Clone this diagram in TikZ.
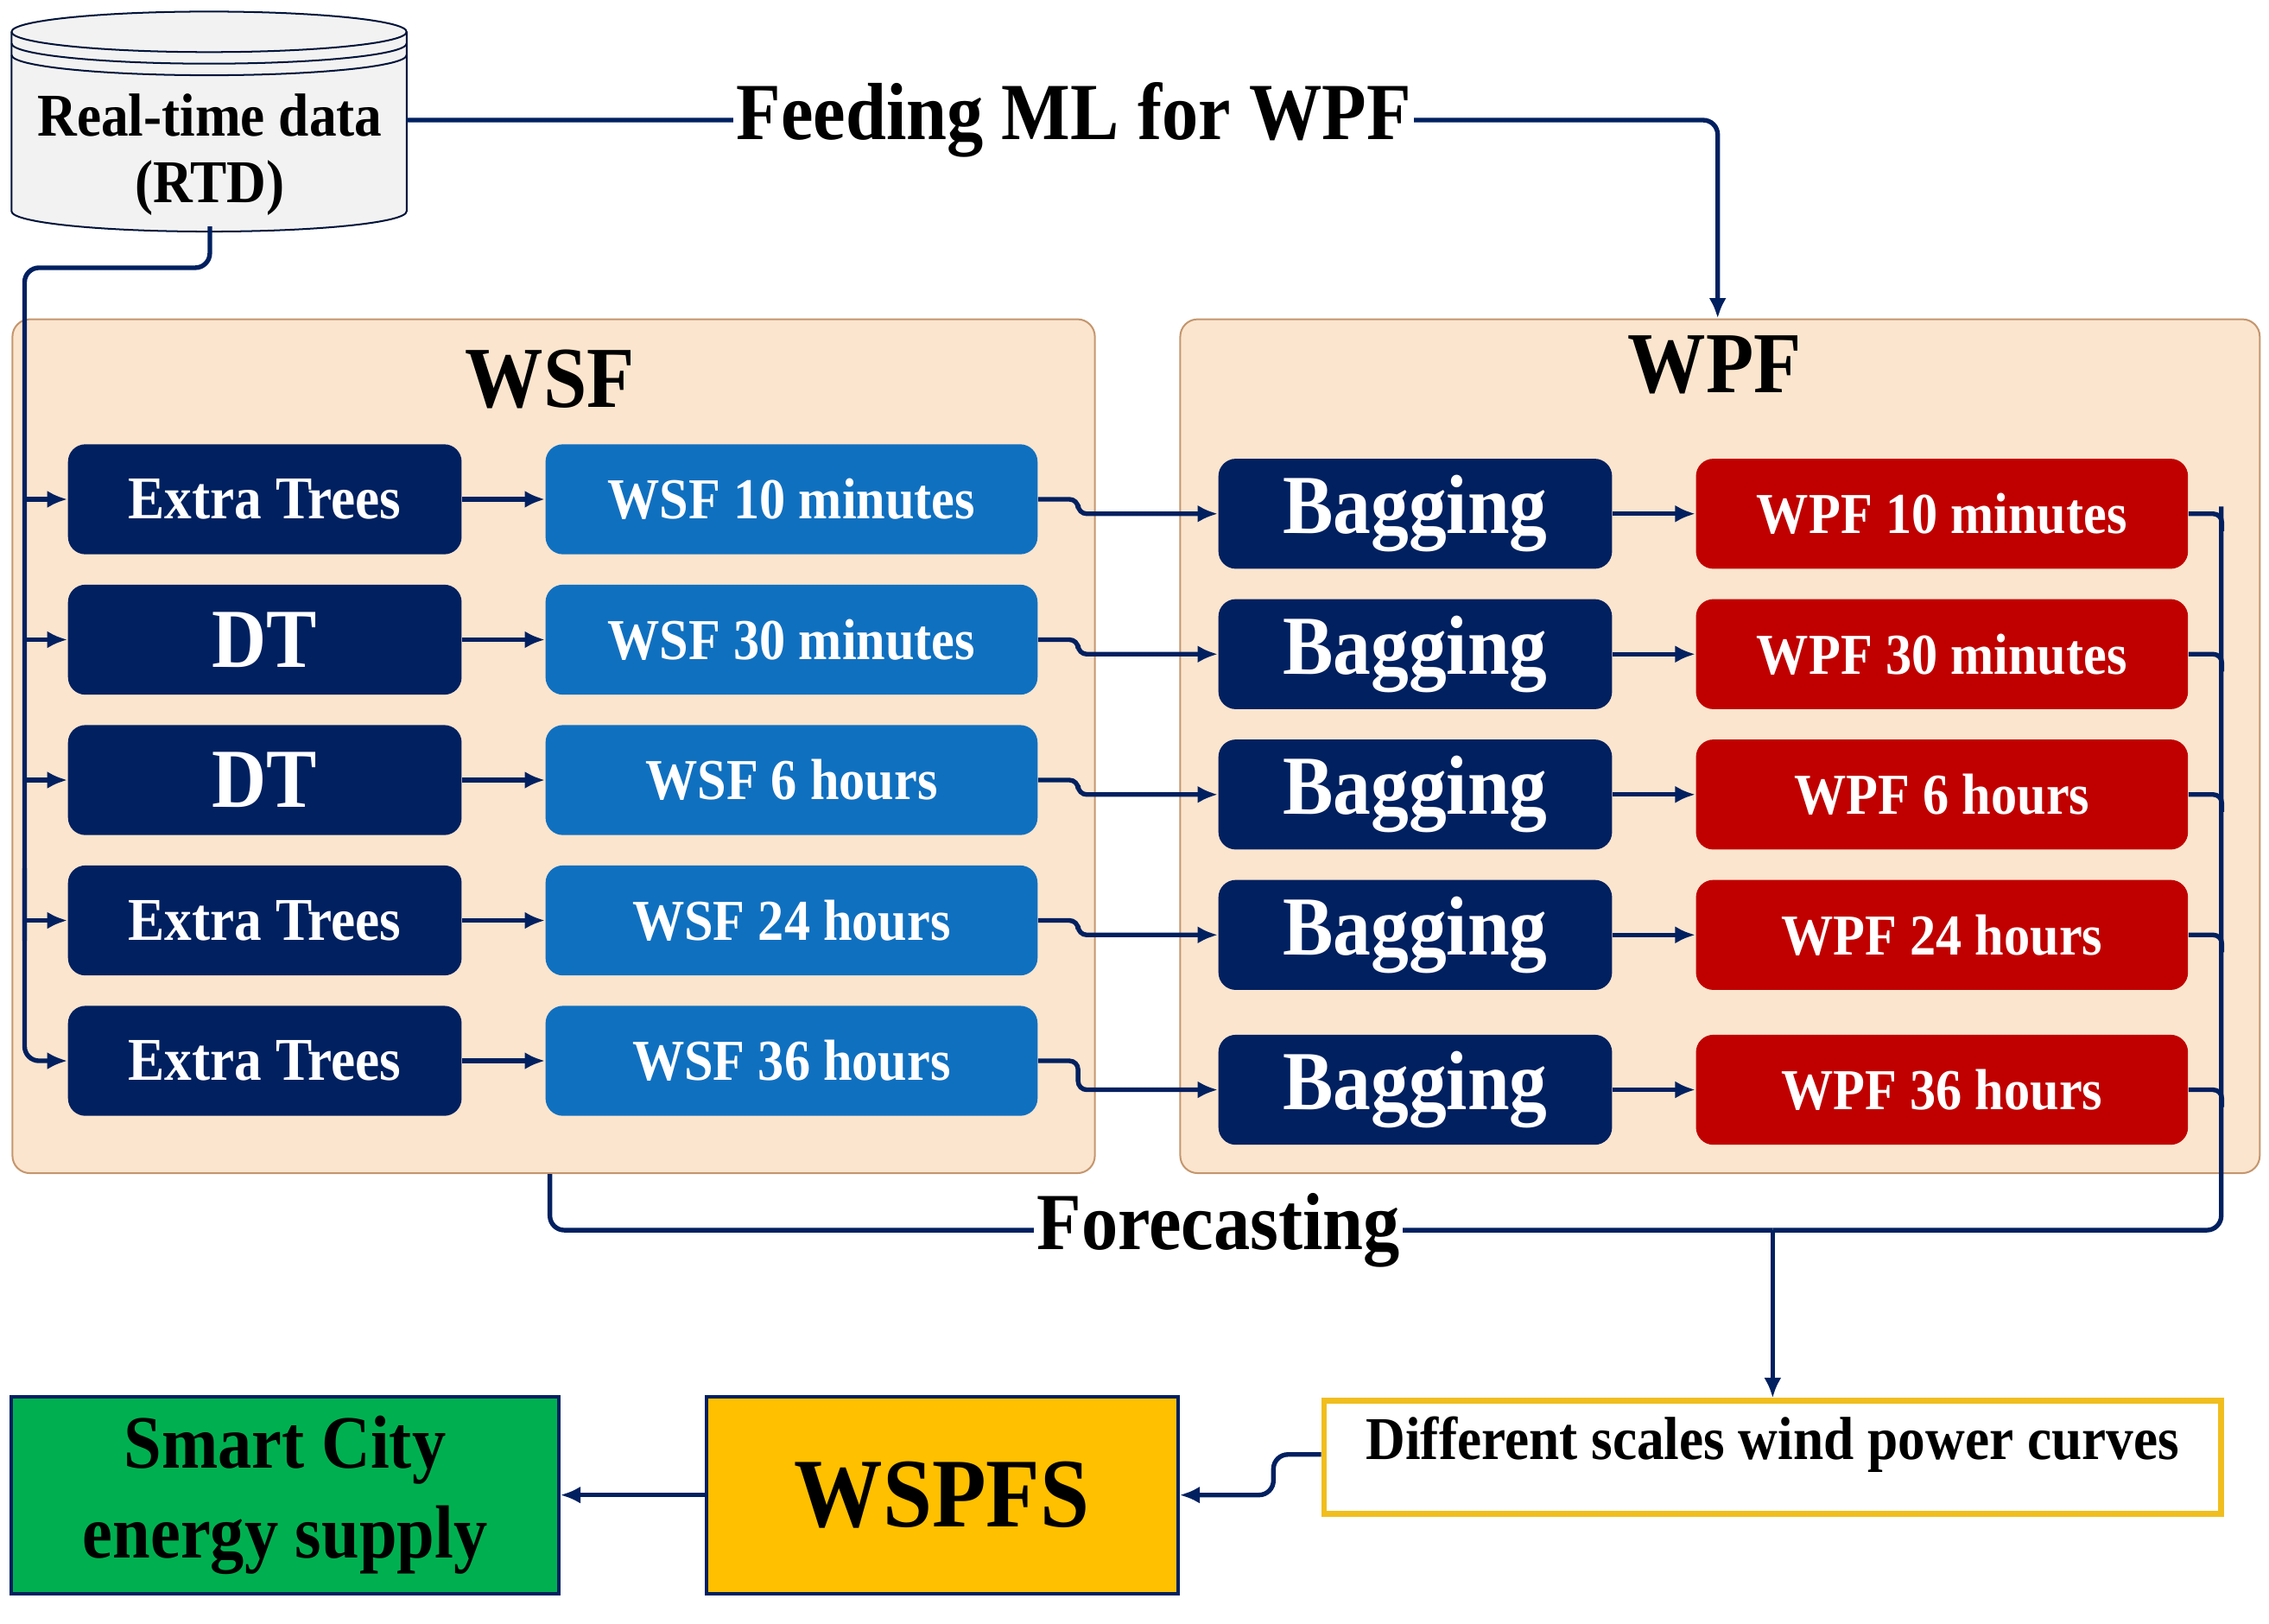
\documentclass[tikz,border=0pt]{standalone}
\usepackage{fontspec}
\setmainfont{Liberation Serif}[FakeStretch=0.9]
\usetikzlibrary{arrows.meta}
\definecolor{navy}{RGB}{0,32,96}
\definecolor{lblue}{RGB}{16,112,192}
\definecolor{dred}{RGB}{192,0,0}
\definecolor{peach}{RGB}{251,229,206}
\definecolor{panelb}{RGB}{196,150,110}
\definecolor{gold}{RGB}{255,192,0}
\definecolor{ygold}{RGB}{240,190,30}
\definecolor{green}{RGB}{0,176,80}
\definecolor{cyl}{RGB}{242,242,242}
\begin{document}
\begin{tikzpicture}[x=0.5pt,y=-0.5pt,
 box/.style={draw=none,rounded corners=6pt,minimum width=136pt,minimum height=38pt,inner sep=0pt,text=white,font=\bfseries\fontsize{21}{24}\selectfont},
 lbox/.style={box,fill=lblue,minimum width=170pt,font=\bfseries\fontsize{20}{22}\selectfont},
 nbox/.style={box,fill=navy},
 bbox/.style={box,fill=navy,font=\bfseries\fontsize{29}{32}\selectfont},
 rbox/.style={box,fill=dred,minimum width=170pt,font=\bfseries\fontsize{20}{22}\selectfont},
 panel/.style={draw=panelb,fill=peach,rounded corners=6pt,line width=0.6pt},
 conn/.style={draw=navy,line width=1.6pt,rounded corners=5pt},
 arr/.style={conn,-{Latex[length=7pt,width=6pt]}},
 cyln/.style={draw=navy!60!black,line width=0.6pt},
 lab/.style={fill=white,inner sep=1pt,font=\bfseries\fontsize{28}{30}\selectfont}]
\useasboundingbox (0,0) rectangle (1568,1122);
% cylinder
\draw[cyln,fill=cyl] (8,22) -- (8,146) arc[start angle=180,end angle=0,x radius=136.5,y radius=14] -- (281,22) arc[start angle=0,end angle=-180,x radius=136.5,y radius=14] -- cycle;
\draw[cyln] (8,22) arc[start angle=180,end angle=0,x radius=136.5,y radius=14];
\draw[cyln] (8,30) arc[start angle=180,end angle=0,x radius=136.5,y radius=14];
\draw[cyln] (8,38) arc[start angle=180,end angle=0,x radius=136.5,y radius=14];
\node[minimum width=136pt,minimum height=60pt,inner sep=0pt] (rtd) at (145,96) {};
\node[align=center,font=\bfseries\fontsize{21}{23}\selectfont] at (145,107) {Real-time data\\(RTD)};
% panels
\node[panel,minimum width=374pt,minimum height=295pt,anchor=north west] (wsfp) at (8,220) {};
\node[panel,minimum width=373pt,minimum height=295pt,anchor=north west] (wpfp) at (815,220) {};
\node[font=\bfseries\fontsize{30}{32}\selectfont] at (380,262) {WSF};
\node[font=\bfseries\fontsize{30}{32}\selectfont] at (1185,252) {WPF};
% rows
\foreach \i/\m/\fs/\w/\y/\yb/\p in {1/Extra Trees/21/WSF 10 minutes/345/355/WPF 10 minutes,2/DT/29/WSF 30 minutes/442/452/WPF 30 minutes,3/DT/29/WSF 6 hours/539/549/WPF 6 hours,4/Extra Trees/21/WSF 24 hours/636/646/WPF 24 hours,5/Extra Trees/21/WSF 36 hours/733/753/WPF 36 hours}{
 \node[nbox,font=\bfseries\fontsize{\fs}{\fs}\selectfont] (m\i) at (183,\y) {\m};
 \node[lbox] (w\i) at (547,\y) {\w};
 \node[bbox] (b\i) at (978,\yb) {Bagging};
 \node[rbox] (p\i) at (1342,\yb) {\p};
 \draw[arr] (m\i) -- (w\i);
 \draw[arr] (b\i) -- (p\i);
 \draw[arr,rounded corners=3pt] (w\i.east) -| (745,\yb) -- (b\i.west);
 \draw[conn,rounded corners=3pt] (p\i.east) -- ++(23,0) -- ++(0,12);
}
% left feed
\draw[conn] (rtd.south) -- (145,185) -- (17,185) -- (17,650) ;
\draw[arr] (17,600) |- (m5.west);
\foreach \i in {1,2,3,4}{\draw[arr,rounded corners=0pt] (17,0 |- m\i.west) -- (m\i.west);}
% feeding ML
\draw[arr] (281,83) -| (wpfp.north -| 1187,0);
\node[lab] at (742,83) {Feeding ML for WPF};
% bottom boxes
\node[draw=ygold,line width=2pt,fill=white,minimum width=310pt,minimum height=39pt,inner sep=0pt,anchor=north west] (curv) at (913,966) {};
\node[font=\bfseries\fontsize{21}{23}\selectfont] at (1225,998) {Different scales wind power curves};
\node[draw=navy,line width=1.2pt,fill=gold,minimum width=163pt,minimum height=68pt,inner sep=0pt,font=\bfseries\fontsize{34}{36}\selectfont] (wspfs) at (651,1033) {WSPFS};
\node[draw=navy,line width=1.2pt,fill=green,minimum width=189pt,minimum height=68pt,inner sep=0pt,align=center,font=\bfseries\fontsize{26}{31}\selectfont] (city) at (197,1033) {Smart City\\energy supply};
% forecasting
\coordinate (fj) at (1225,850);
\draw[conn] (1535,350) -- (1535,850) -- (fj);
\draw[conn] (wsfp.south -| 380,0) -- (380,850) -- (fj);
\draw[arr] (fj) -- (curv.north -| fj);
\node[lab] at (842,850) {Forecasting};
\draw[arr] (curv.west |- 0,1005) -- (880,1005) -- (880,1033) -- (wspfs.east);
\draw[arr] (wspfs.west) -- (city.east);
\end{tikzpicture}
\end{document}
